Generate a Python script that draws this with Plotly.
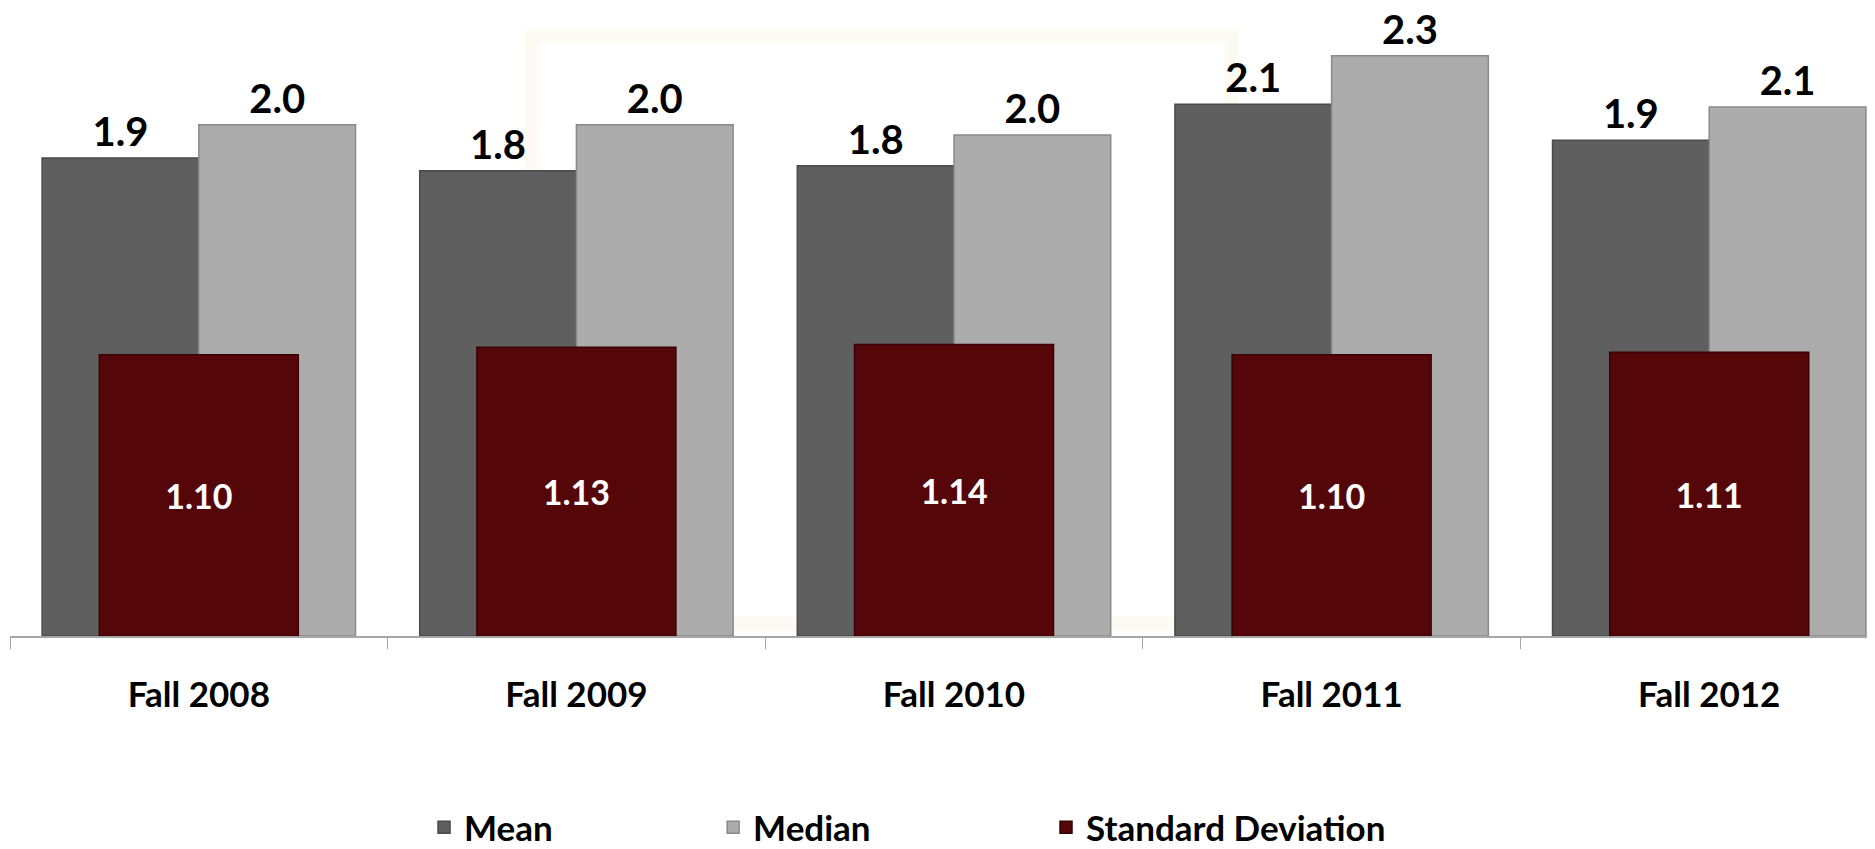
import plotly.graph_objects as go

terms = ["Fall 2008", "Fall 2009", "Fall 2010", "Fall 2011", "Fall 2012"]
mean = [1.87, 1.82, 1.84, 2.08, 1.94]
median = [2.00, 2.00, 1.96, 2.27, 2.07]
std_dev = [1.10, 1.13, 1.14, 1.10, 1.11]

FONT = "Lato, 'Open Sans', sans-serif"
BAR_W = 0.415

fig = go.Figure()

fig.add_trace(go.Bar(
    x=terms, y=mean, name="Mean", legend="legend",
    width=BAR_W, offset=-BAR_W,
    marker=dict(color="#5f5f5f", line=dict(color="#4a4a4a", width=1.5)),
    texttemplate="%{y:.1f}", textposition="outside", cliponaxis=False,
    textfont=dict(family=FONT, size=40, color="black", weight="bold"),
))
fig.add_trace(go.Bar(
    x=terms, y=median, name="Median", legend="legend2",
    width=BAR_W, offset=0,
    marker=dict(color="#acacac", line=dict(color="#8a8a8a", width=1.5)),
    texttemplate="%{y:.1f}", textposition="outside", cliponaxis=False,
    textfont=dict(family=FONT, size=40, color="black", weight="bold"),
))
fig.add_trace(go.Bar(
    x=terms, y=std_dev, name="Standard Deviation", legend="legend3",
    width=0.527, offset=-0.2635,
    marker=dict(color="#550608", line=dict(color="#3a0202", width=1.5)),
    texttemplate="%{y:.2f}", textposition="inside", insidetextanchor="middle",
    textfont=dict(family=FONT, size=34, color="white", weight="bold"),
))

# very faint watermark frame behind the bars
fig.add_shape(type="rect", xref="paper", yref="paper",
              x0=0.28, x1=0.655, y0=0.02, y1=0.955,
              line=dict(color="#fcfaf3", width=14), fillcolor="rgba(0,0,0,0)",
              layer="below")

legend_style = dict(orientation="h", y=-0.305, yanchor="middle", xanchor="left",
                    font=dict(family=FONT, size=35, color="black", weight="bold"))

fig.update_layout(
    width=1867, height=849, autosize=False,
    margin=dict(l=2, r=0, t=0, b=215),
    paper_bgcolor="white", plot_bgcolor="white",
    barmode="overlay",
    font=dict(family=FONT, color="black"),
    xaxis=dict(
        range=[-0.5, 4.439], showgrid=False, zeroline=False,
        showline=True, linecolor="#a6a6a6", linewidth=1.5,
        ticks="outside", tickson="boundaries", ticklen=11, tickcolor="#a6a6a6",
        tickfont=dict(family=FONT, size=35, color="black", weight="bold"),
        ticklabelstandoff=27,
    ),
    yaxis=dict(range=[0, 2.457], visible=False),
    legend=dict(x=0.222, **legend_style),
    legend2=dict(x=0.377, **legend_style),
    legend3=dict(x=0.5555, **legend_style),
    showlegend=True,
)

fig.write_html("out.html")
